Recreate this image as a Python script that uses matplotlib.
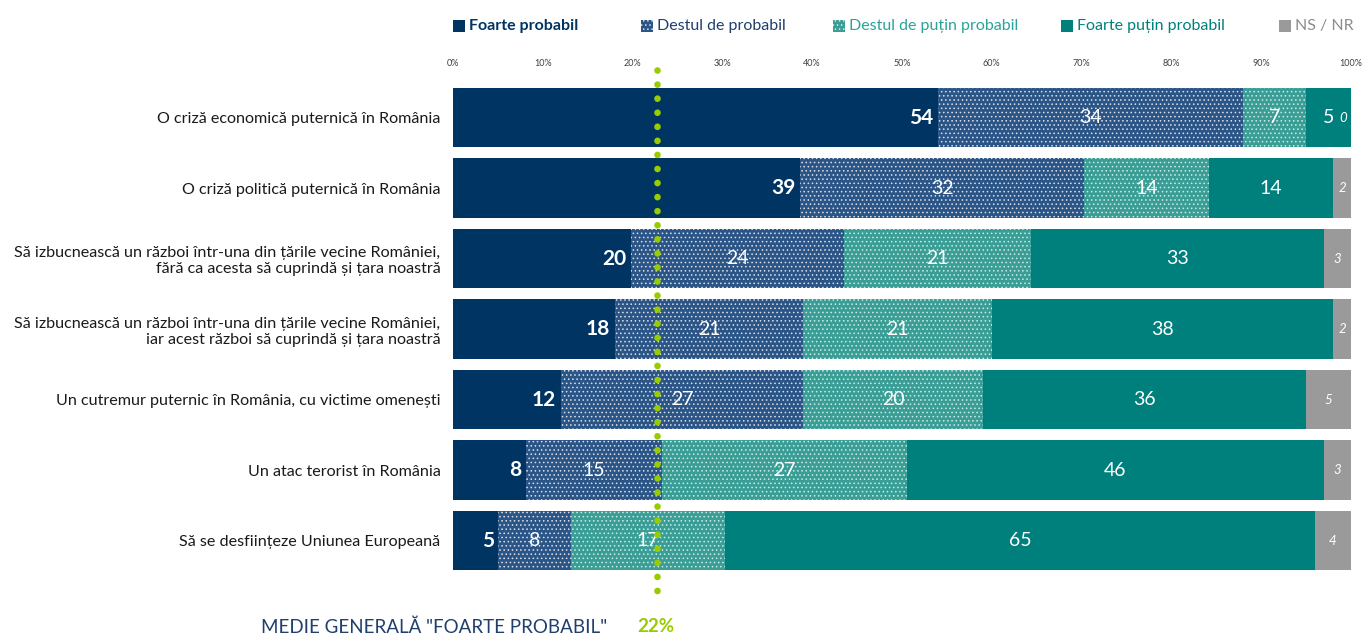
import matplotlib
matplotlib.use("Agg")
import matplotlib.pyplot as plt
import numpy as np
from matplotlib.patches import Rectangle

plt.rcParams['font.family'] = ['Lato', 'DejaVu Sans']
plt.rcParams['hatch.linewidth'] = 0.6

categories = [
    "O criză economică puternică în România",
    "O criză politică puternică în România",
    "Să izbucnească un război într-una din țările vecine României,\nfără ca acesta să cuprindă și țara noastră",
    "Să izbucnească un război într-una din țările vecine României,\niar acest război să cuprindă și țara noastră",
    "Un cutremur puternic în România, cu victime omenești",
    "Un atac terorist în România",
    "Să se desființeze Uniunea Europeană",
]
series_names = ["Foarte probabil", "Destul de probabil", "Destul de puțin probabil",
                "Foarte puțin probabil", "NS / NR"]
foarte_probabil = [54, 39, 20, 18, 12, 8, 5]
destul_probabil = [34, 32, 24, 21, 27, 15, 8]
destul_putin = [7, 14, 21, 21, 20, 27, 17]
foarte_putin = [5, 14, 33, 38, 36, 46, 65]
ns_nr = [0, 2, 3, 2, 5, 3, 4]
tick_values = [0, 10, 20, 30, 40, 50, 60, 70, 80, 90, 100]
tick_labels = ["0%", "10%", "20%", "30%", "40%", "50%", "60%", "70%", "80%", "90%", "100%"]
average_value = 22.7
average_label = "22%"

colors = ["#003463", "#2b5586", "#3a9e96", "#00807c", "#9a9a9a"]
hatches = [None, "....", "....", None, None]
hatch_colors = [None, "#d8e0ea", "#c8ece6", None, None]
legend_text_colors = ["#003463", "#1f3f6e", "#2aa39a", "#00807c", "#8c8c8c"]

fig = plt.figure(figsize=(13.65, 6.35), dpi=100)
ax = fig.add_axes([453/1365, 1-575.75/635, (1351-453)/1365, (575.75-82.25)/635])

data = np.array([foarte_probabil, destul_probabil, destul_putin, foarte_putin, ns_nr], dtype=float)
totals = data.sum(axis=0)
norm = data / totals * 100
y = np.arange(len(categories))
left = np.zeros(len(categories))
h = 0.84
for i in range(5):
    if hatches[i]:
        ax.barh(y, norm[i], left=left, height=h, color=colors[i], edgecolor=hatch_colors[i],
                hatch=hatches[i], linewidth=0)
    else:
        ax.barh(y, norm[i], left=left, height=h, color=colors[i], linewidth=0)
    for j in range(len(categories)):
        val = data[i, j]
        w = norm[i, j]
        if i == 0:
            ax.text(left[j] + w - 0.5, y[j], f"{int(val)}", ha="right", va="center",
                    color="white", fontsize=15, fontweight="bold")
        elif i == 4:
            ax.text(left[j] + w / 2 if w > 0.5 else left[j] - 0.5, y[j], f"{int(val)}",
                    ha="center" if w > 0.5 else "right", va="center",
                    color="white", fontsize=9.5, style="italic")
        else:
            ax.text(left[j] + w / 2, y[j], f"{int(val)}", ha="center", va="center",
                    color="white", fontsize=14)
    left += norm[i]

ax.set_xlim(0, 100)
ax.set_ylim(len(categories) - 0.5, -0.5)
ax.set_yticks(y)
ax.set_yticklabels(categories, fontsize=11.6, color="#1a1a1a")
ax.tick_params(axis="y", length=0, pad=9)
ax.xaxis.tick_top()
ax.set_xticks(tick_values)
ax.set_xticklabels(tick_labels, fontsize=6.5, color="#404040")
ax.tick_params(axis="x", length=0, pad=10)
for s in ax.spines.values():
    s.set_visible(False)

# average dotted line
ax.plot([average_value, average_value], [-0.674, 6.87], color="#99cc00", linewidth=4.8,
        dashes=[0.01, 2.1], dash_capstyle="round", clip_on=False, zorder=5)

# legend
leg_x = [453, 641, 833, 1061, 1279]
for i, name in enumerate(series_names):
    x0 = leg_x[i] / 1365
    yc = 1 - 26 / 635
    sq = Rectangle((x0, yc - 6/635), 12/1365, 12/635, transform=fig.transFigure,
                   facecolor=colors[i], edgecolor=hatch_colors[i] if hatches[i] else "none",
                   hatch=hatches[i], linewidth=0)
    fig.patches.append(sq)
    fig.text(x0 + 16/1365, yc, name, fontsize=11.5, va="center", ha="left",
             color=legend_text_colors[i], fontweight="bold" if i == 0 else "normal")

fig.text(607/1365, 1 - 627/635, 'MEDIE GENERALĂ "FOARTE PROBABIL"', fontsize=13.5,
         color="#1f3f6e", ha="right", va="center")
fig.text(637/1365, 1 - 627/635, average_label, fontsize=13.5, color="#99cc00",
         fontweight="bold", ha="left", va="center")

fig.savefig("out.png", dpi=100)
